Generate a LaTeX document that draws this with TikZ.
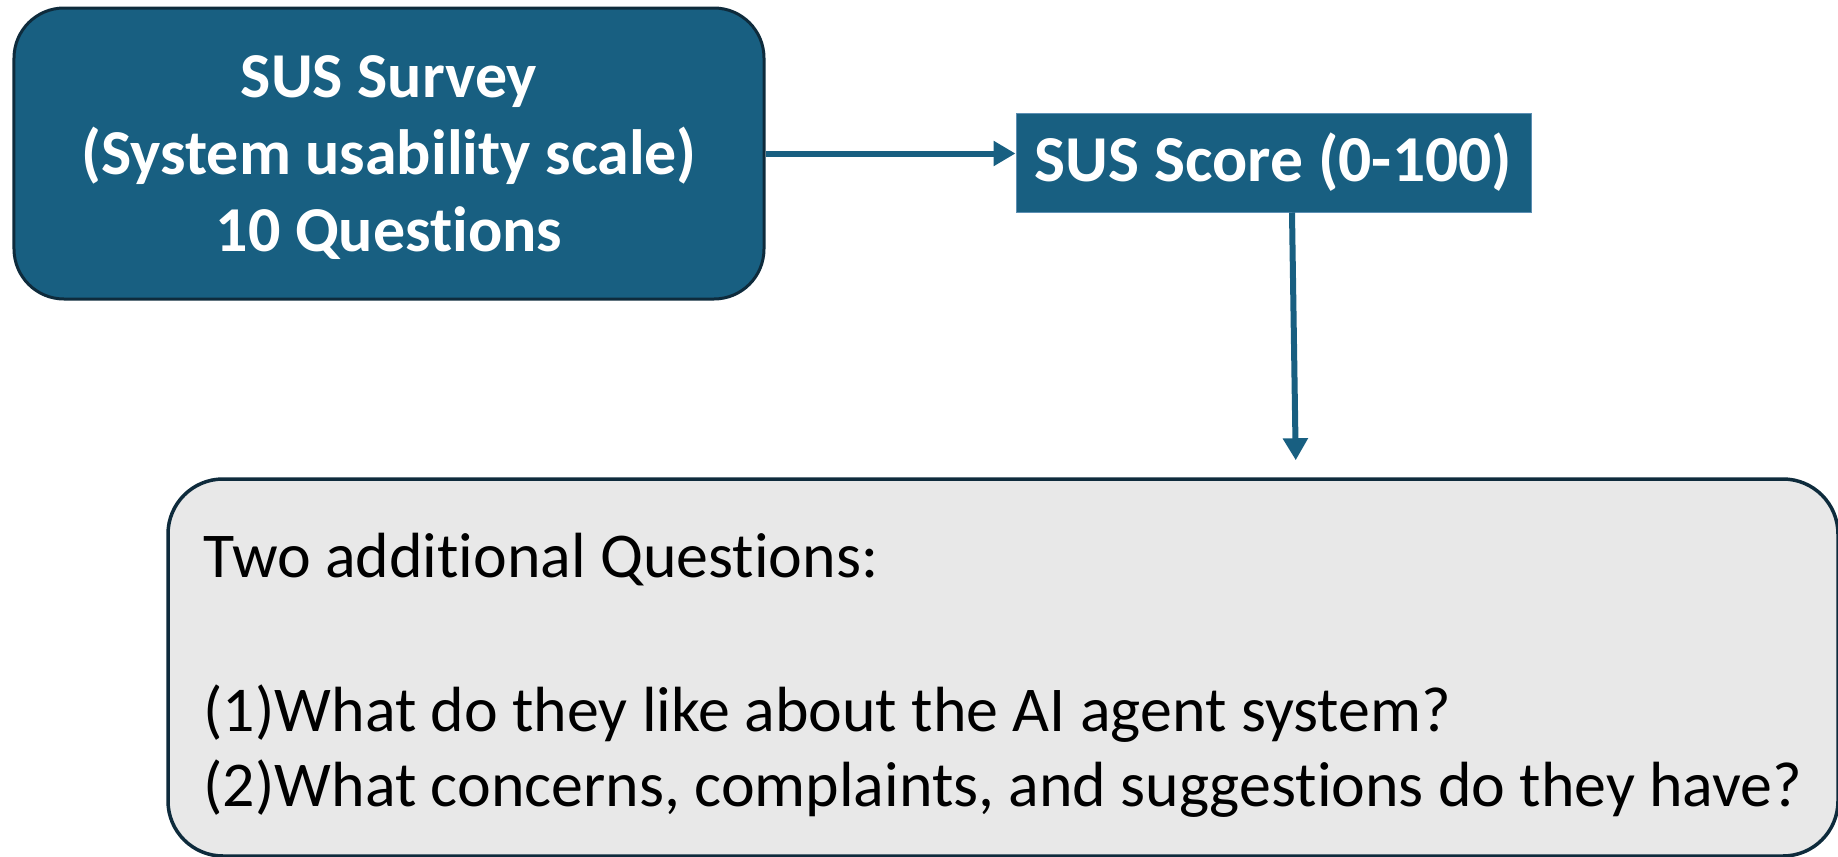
\documentclass[tikz,border=0pt]{standalone}
\usepackage{fontspec}
\setmainfont{Carlito}[Ligatures={NoCommon,NoContextual}]
\usepackage{tikz}
\usetikzlibrary{arrows.meta}
\definecolor{susblue}{HTML}{185F81}
\definecolor{susedge}{HTML}{0E2B3C}
\definecolor{scoreedge}{HTML}{5C8FB3}
\definecolor{qgray}{HTML}{E8E8E8}

\begin{document}
\begin{tikzpicture}[
  bluebox/.style = {fill=susblue, text=white, font=\bfseries, align=center, inner sep=0pt},
  arr/.style = {draw=susblue, line width=0.06cm, -{Triangle[length=0.22cm,width=0.24cm]}}
]
\useasboundingbox (0,0) rectangle (18.38,-8.57);

\node[bluebox, draw=susedge, line width=0.03cm, rounded corners=0.5cm,
  minimum width=7.5cm, minimum height=2.91cm,
  font=\bfseries\fontsize{18.2pt}{21.8pt}\selectfont] (survey) at (3.89,-1.535)
  {\rule{0pt}{0.5cm}SUS Survey\\(System usability scale)\\10 Questions};

\node[bluebox, draw=scoreedge, line width=0.01cm,
  minimum width=5.15cm, minimum height=0.99cm,
  font=\bfseries\fontsize{18.65pt}{22pt}\selectfont] (score) at (12.735,-1.625)
  {SUS Score (0-100)};

\node[draw=susedge, fill=qgray, line width=0.035cm, rounded corners=0.55cm,
  minimum width=16.7cm, minimum height=3.77cm, align=left, inner sep=0pt,
  font=\fontsize{18.17pt}{21.6pt}\selectfont] (extra) at (10.03,-6.675)
  {\rule{0pt}{0.6cm}Two additional Questions:\\[22.2pt]
   (1)What do they like about the AI agent system?\\
   (2)What concerns, complaints, and suggestions do they have?};

\draw[arr] (survey.east) -- (survey.east -| score.west);
\draw[arr, shorten >=0.17cm] ([xshift=0.185cm]score.south) -- ([xshift=2.93cm]extra.north);
\end{tikzpicture}
\end{document}
